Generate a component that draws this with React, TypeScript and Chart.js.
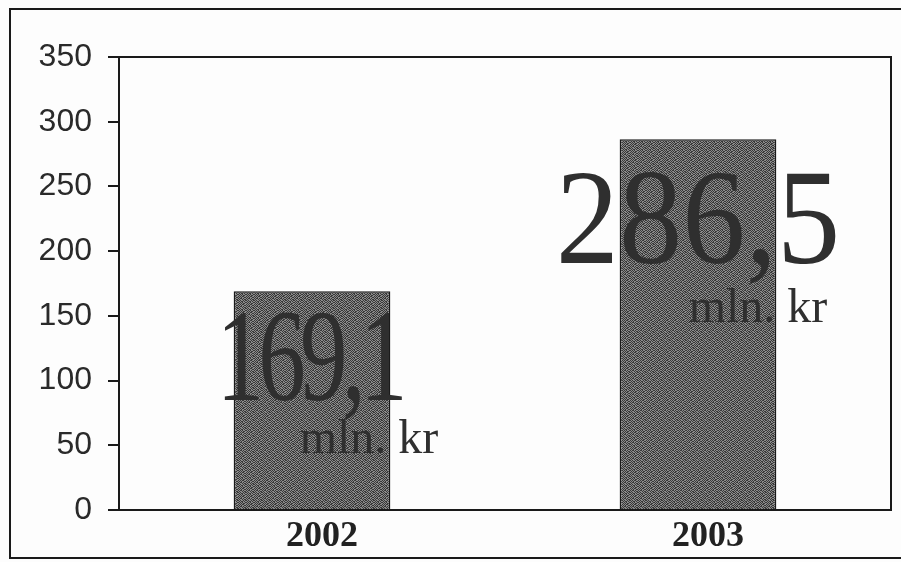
import React, { useEffect, useRef } from "react";
import { Chart, registerables } from "chart.js";

Chart.register(...registerables);

const categories = ["2002", "2003"];
const values = [169.1, 286.5];
const valueLabels = ["169,1", "286,5"];
const unitLabels = ["mln. kr", "mln. kr"];
const yMin = 0;
const yMax = 350;
const yStep = 50;

// styling for the in-chart labels (not data)
const bigStyle = [
  { size: 132, scaleX: 0.72, spacing: -8, dy: 109, unitDx: 57, unitDy: 53 },
  { size: 136, scaleX: 0.93, spacing: 0, dy: 124, unitDx: 60, unitDy: 59 },
];

const tile = [
  "10110010",
  "01001101",
  "11010010",
  "00101101",
  "10010110",
  "01101001",
  "10100110",
  "01011001",
];

function makePattern(ctx: CanvasRenderingContext2D): CanvasPattern | string {
  const c = document.createElement("canvas");
  c.width = 8;
  c.height = 8;
  const g = c.getContext("2d");
  if (!g) return "#666666";
  for (let y = 0; y < 8; y++) {
    for (let x = 0; x < 8; x++) {
      g.fillStyle = tile[y][x] === "1" ? "#383838" : "#8a8a8a";
      g.fillRect(x, y, 1, 1);
    }
  }
  return ctx.createPattern(c, "repeat") || "#666666";
}

const framePlugin = {
  id: "frame",
  beforeDraw(chart: any) {
    const ctx = chart.ctx as CanvasRenderingContext2D;
    ctx.save();
    ctx.fillStyle = "#fdfdfd";
    ctx.fillRect(0, 0, chart.width, chart.height);
    ctx.strokeStyle = "#1a1a1a";
    ctx.lineWidth = 2;
    ctx.strokeRect(10, 9, chart.width + 20, 549);
    ctx.restore();
  },
  afterDraw(chart: any) {
    const ctx = chart.ctx as CanvasRenderingContext2D;
    const a = chart.chartArea;
    ctx.save();
    ctx.strokeStyle = "#1a1a1a";
    ctx.lineWidth = 2;
    ctx.beginPath();
    ctx.moveTo(a.left, a.top);
    ctx.lineTo(a.right, a.top);
    ctx.lineTo(a.right, a.bottom);
    ctx.stroke();
    ctx.restore();
  },
};

const labelPlugin = {
  id: "bigLabels",
  afterDatasetsDraw(chart: any) {
    const ctx = chart.ctx as CanvasRenderingContext2D;
    const meta = chart.getDatasetMeta(0);
    meta.data.forEach((bar: any, i: number) => {
      const st = bigStyle[i];
      const cx = bar.x;
      const base = bar.y + st.dy;
      ctx.save();
      ctx.fillStyle = "#2f2f2f";
      ctx.font = `${st.size}px "Liberation Serif", "Times New Roman", serif`;
      (ctx as any).letterSpacing = `${st.spacing}px`;
      ctx.textBaseline = "alphabetic";
      ctx.textAlign = "left";
      const w = ctx.measureText(valueLabels[i]).width - st.spacing;
      ctx.translate(cx, base);
      ctx.scale(st.scaleX, 1);
      ctx.fillText(valueLabels[i], -w / 2, 0);
      ctx.restore();

      ctx.save();
      ctx.fillStyle = "#2f2f2f";
      ctx.font = `48px "Liberation Serif", "Times New Roman", serif`;
      ctx.textBaseline = "alphabetic";
      ctx.textAlign = "center";
      ctx.fillText(unitLabels[i], cx + st.unitDx, base + st.unitDy);
      ctx.restore();
    });
  },
};

export default function App() {
  const ref = useRef<HTMLCanvasElement | null>(null);
  useEffect(() => {
    const canvas = ref.current;
    if (!canvas) return;
    const ctx = canvas.getContext("2d");
    if (!ctx) return;
    const pattern = makePattern(ctx);
    const chart = new Chart(canvas, {
      type: "bar",
      data: {
        labels: categories,
        datasets: [
          {
            data: values,
            backgroundColor: pattern as any,
            borderColor: "#1a1a1a",
            borderWidth: 1.5,
            categoryPercentage: 1,
            barPercentage: 0.406,
          },
        ],
      },
      options: {
        animation: false,
        responsive: false,
        maintainAspectRatio: false,
        layout: { padding: { top: 57, right: 10, left: 0, bottom: 0 } },
        plugins: {
          legend: { display: false },
          tooltip: { enabled: false },
        },
        scales: {
          x: {
            grid: { display: false },
            border: { display: true, color: "#1a1a1a", width: 2 },
            ticks: {
              color: "#222",
              padding: -3,
              labelOffset: 10,
              font: { family: '"Liberation Serif", "Times New Roman", serif', size: 36, weight: "bold" },
            },
            afterFit: (s: any) => {
              s.height = 52;
            },
          },
          y: {
            min: yMin,
            max: yMax,
            ticks: {
              stepSize: yStep,
              color: "#2a2a2a",
              padding: 16,
              font: { family: '"Liberation Sans", Arial, sans-serif', size: 32 },
            },
            grid: {
              drawOnChartArea: false,
              drawTicks: true,
              tickLength: 11,
              color: "#1a1a1a",
              lineWidth: 2,
            },
            border: { display: true, color: "#1a1a1a", width: 2 },
            afterFit: (s: any) => {
              s.width = 119;
            },
          },
        },
      },
      plugins: [framePlugin, labelPlugin],
    });
    return () => chart.destroy();
  }, []);
  return (
    <div style={{ position: "fixed", left: 0, top: 0, width: 901, height: 562 }}>
      <canvas ref={ref} width={901} height={562} style={{ width: 901, height: 562, display: "block" }} />
    </div>
  );
}
